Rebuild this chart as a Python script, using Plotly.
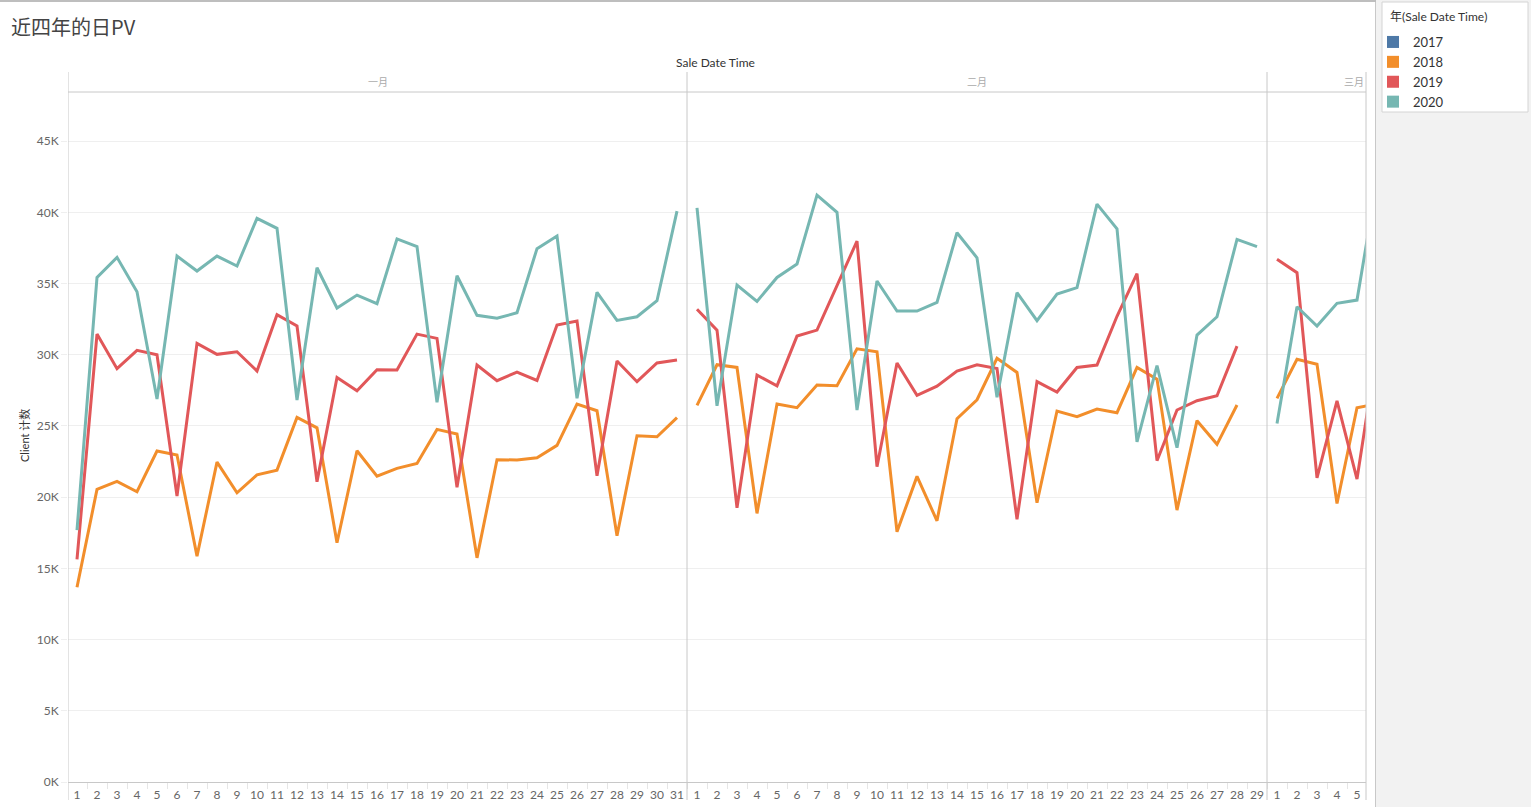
import plotly.graph_objects as go

# ---------------- data ----------------
years = ["2017", "2018", "2019", "2020"]
colors = {"2017": "#4e79a7", "2018": "#f28e2b", "2019": "#e15759", "2020": "#76b7b2"}

month_names = ["一月", "二月", "三月"]
jan_days = list(range(1, 32))
feb_days = list(range(1, 30))
mar_days = [1, 2, 3, 4, 5, 6]

# Client 计数 per day
y2018_jan = [13670, 20550, 21110, 20380, 23240, 22960, 15860, 22460, 20310, 21570, 21900,
             25600, 24870, 16800, 23260, 21470, 22020, 22370, 24760, 24430, 15740, 22630,
             22610, 22770, 23640, 26540, 26070, 17290, 24310, 24240, 25580]
y2018_feb = [26450, 29300, 29110, 18860, 26540, 26280, 27870, 27820, 30420, 30210, 17570,
             21460, 18340, 25510, 26840, 29750, 28760, 19610, 26050, 25650, 26190, 25930,
             29110, 28290, 19090, 25370, 23710, 26470]
y2018_mar = [26940, 29680, 29330, 19560, 26280, 26550]

y2019_jan = [15630, 31450, 29020, 30310, 30000, 20080, 30800, 30030, 30210, 28860, 32810,
             32020, 21080, 28410, 27470, 28950, 28930, 31450, 31150, 20690, 29280, 28180,
             28780, 28200, 32090, 32370, 21500, 29560, 28110, 29420, 29630]
y2019_feb = [33190, 31730, 19260, 28570, 27820, 31310, 31730, 34870, 37980, 22140, 29420,
             27150, 27800, 28860, 29300, 29040, 18440, 28110, 27380, 29110, 29280, 32700,
             35690, 22560, 26120, 26770, 27120, 30610]
y2019_mar = [36700, 35760, 21360, 26770, 21270, 30400]

y2020_jan = [17690, 35430, 36840, 34430, 26890, 36930, 35880, 36930, 36230, 39580, 38880,
             26820, 36110, 33280, 34190, 33590, 38130, 37590, 26660, 35550, 32770, 32560,
             32950, 37450, 38340, 26940, 34380, 32410, 32670, 33790, 40090]
y2020_feb = [40320, 26420, 34890, 33750, 35430, 36370, 41210, 40000, 26120, 35180, 33070,
             33070, 33680, 38570, 36810, 27010, 34360, 32390, 34260, 34710, 40580, 38850,
             23890, 29230, 23470, 31380, 32670, 38100, 37590]
y2020_mar = [25180, 33370, 32020, 33610, 33840, 42200]

series = {
    "2018": [y2018_jan, y2018_feb, y2018_mar],
    "2019": [y2019_jan, y2019_feb, y2019_mar],
    "2020": [y2020_jan, y2020_feb, y2020_mar],
}

y_tick_vals = [0, 5000, 10000, 15000, 20000, 25000, 30000, 35000, 40000, 45000]
y_tick_labels = ["0K", "5K", "10K", "15K", "20K", "25K", "30K", "35K", "40K", "45K"]

# ---------------- geometry helpers ----------------
W, H = 1531, 807
L, R, T, B = 68, 1366, 92, 782


def px(xp):
    return (xp - L) / (R - L)


def py(yp):
    return (B - yp) / (B - T)


month_days = [jan_days, feb_days, mar_days]
offsets = [0, len(jan_days), len(jan_days) + len(feb_days)]

fig = go.Figure()

# lines, one segment per month pane
for yr in ["2018", "2019", "2020"]:
    xs, ys = [], []
    for m, vals in enumerate(series[yr]):
        days = month_days[m][:len(vals)]
        xs += [offsets[m] + d for d in days] + [None]
        ys += vals + [None]
    fig.add_trace(go.Scatter(
        x=xs, y=ys, mode="lines", name=yr, showlegend=False,
        line=dict(color=colors[yr], width=3), connectgaps=False,
        hoverinfo="skip"))

# legend entries (square swatches)
for yr in years:
    fig.add_trace(go.Scatter(
        x=[None], y=[None], mode="markers", name=yr,
        marker=dict(symbol="square", size=14, color=colors[yr]),
        showlegend=True))

# tick positions
tick_vals, tick_text = [], []
for m, days in enumerate(month_days):
    for d in days:
        tick_vals.append(offsets[m] + d)
        tick_text.append(str(d))
minor_vals = [v + 0.5 for v in tick_vals]

xmin = 0.55
xmax = xmin + (R - L) / 20.0

font_fam = "Lato, 'Noto Sans CJK SC', sans-serif"

fig.update_layout(
    width=W, height=H,
    margin=dict(l=L, r=W - R, t=T, b=H - B, pad=0, autoexpand=False),
    paper_bgcolor="white", plot_bgcolor="white",
    font=dict(family=font_fam, color="#666666", size=12),
    showlegend=True,
    legend=dict(
        x=px(1373), y=py(27), xanchor="left", yanchor="top",
        bgcolor="rgba(0,0,0,0)", borderwidth=0,
        font=dict(size=13, color="#333333"),
        tracegroupgap=0, itemsizing="constant", maxheight=300,
    ),
    xaxis=dict(
        range=[xmin, xmax], tickmode="array", tickvals=tick_vals, ticktext=tick_text,
        showgrid=False, zeroline=False, showline=True, linecolor="#c8c8c8", linewidth=1,
        ticks="outside", ticklen=2, tickcolor="rgba(0,0,0,0)",
        tickfont=dict(size=12, color="#666666"), ticklabelstandoff=0,
        minor=dict(tickmode="array", tickvals=minor_vals, ticks="outside", ticklen=6,
                   tickcolor="#e6e6e6", showgrid=False),
        automargin=False, fixedrange=True,
    ),
    yaxis=dict(
        range=[0, 48450], tickmode="array", tickvals=y_tick_vals, ticktext=y_tick_labels,
        showgrid=True, gridcolor="#efefef", gridwidth=1, zeroline=False,
        showline=False, ticks="outside", ticklen=6, tickcolor="#efefef",
        tickfont=dict(size=12, color="#666666"), ticklabelstandoff=0,
        automargin=False, fixedrange=True,
    ),
)

shapes = []
line_col = "#c8c8c8"
# right gray panel
shapes.append(dict(type="rect", xref="paper", yref="paper", x0=px(1376), x1=px(W + 5),
                   y0=py(H + 5), y1=py(-5), fillcolor="#f2f2f2", line=dict(width=0), layer="below"))
shapes.append(dict(type="line", xref="paper", yref="paper", x0=px(1375.5), x1=px(1375.5),
                   y0=py(H), y1=py(0), line=dict(color="#c8c8c8", width=1)))
# top border
shapes.append(dict(type="line", xref="paper", yref="paper", x0=px(0), x1=px(1375.5),
                   y0=py(1), y1=py(1), line=dict(color="#a8a8a8", width=1.5)))
# legend box
shapes.append(dict(type="rect", xref="paper", yref="paper", x0=px(1382), x1=px(1528),
                   y0=py(112), y1=py(2), fillcolor="white", line=dict(color="#d4d4d4", width=1),
                   layer="below"))
# header bottom line
shapes.append(dict(type="line", xref="paper", yref="paper", x0=0, x1=1, y0=1, y1=1,
                   line=dict(color=line_col, width=1)))
# pane separators (at month boundaries) + left/right edges
for xv in [xmin, offsets[1] + 0.5, offsets[2] + 0.5]:
    shapes.append(dict(type="line", xref="x", yref="paper", x0=xv, x1=xv,
                       y0=py(800), y1=py(72), line=dict(color=line_col, width=1)))
shapes.append(dict(type="line", xref="paper", yref="paper", x0=1, x1=1,
                   y0=py(800), y1=py(72), line=dict(color=line_col, width=1)))

fig.update_layout(shapes=shapes)

ann = []
ann.append(dict(text="近四年的日PV", xref="paper", yref="paper", x=px(9), y=py(26),
                xanchor="left", yanchor="middle", showarrow=False,
                font=dict(size=20, color="#444444", family="'Noto Sans CJK SC', sans-serif")))
ann.append(dict(text="年(Sale Date Time)", xref="paper", yref="paper", x=px(1388), y=py(17),
                xanchor="left", yanchor="middle", showarrow=False,
                font=dict(size=12, color="#333333")))
ann.append(dict(text="Sale Date Time", xref="paper", yref="paper", x=px(715), y=py(62),
                xanchor="center", yanchor="middle", showarrow=False,
                font=dict(size=12, color="#333333")))
# month headers
ann.append(dict(text=month_names[0], xref="x", yref="paper",
                x=(xmin + offsets[1] + 0.5) / 2, y=py(82), xanchor="center", yanchor="middle",
                showarrow=False, font=dict(size=10, color="#aaaaaa")))
ann.append(dict(text=month_names[1], xref="x", yref="paper",
                x=(offsets[1] + offsets[2] + 1) / 2, y=py(82), xanchor="center", yanchor="middle",
                showarrow=False, font=dict(size=10, color="#aaaaaa")))
ann.append(dict(text=month_names[2], xref="paper", yref="paper",
                x=1, y=py(82), xanchor="right", yanchor="middle",
                showarrow=False, font=dict(size=10, color="#aaaaaa")))
ann.append(dict(text="Client 计数", xref="paper", yref="paper", x=px(24), y=py(436),
                xanchor="center", yanchor="middle", textangle=-90, showarrow=False,
                font=dict(size=11, color="#333333")))
fig.update_layout(annotations=ann)

fig.write_html("out.html")
